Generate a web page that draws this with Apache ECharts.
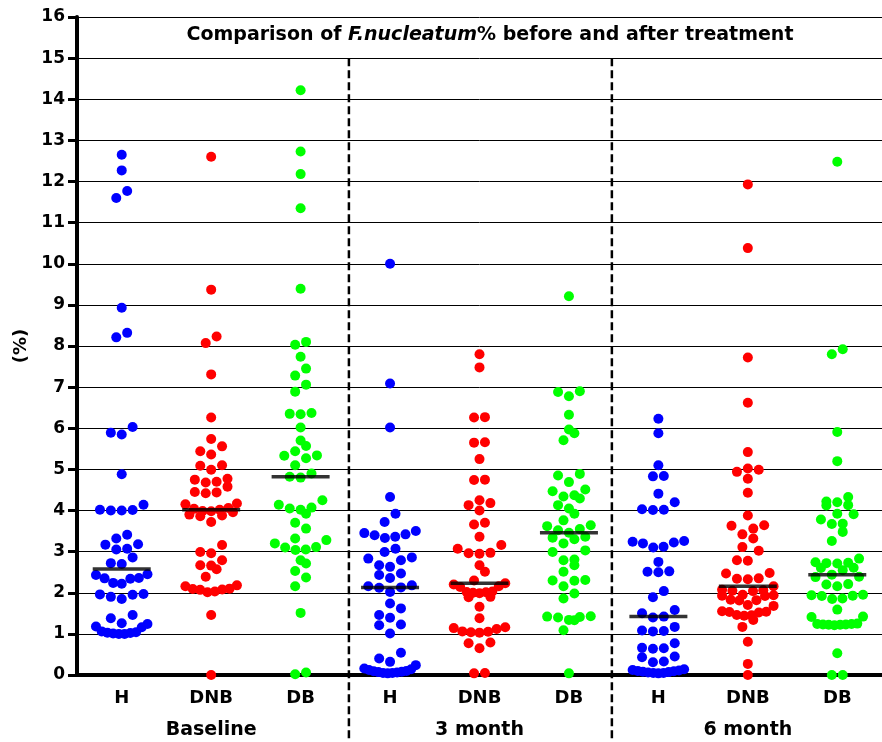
<!DOCTYPE html>
<html>
<head>
<meta charset="utf-8">
<script src="https://cdn.jsdelivr.net/npm/echarts@6/dist/echarts.min.js"></script>
<style>
html, body { margin: 0; padding: 0; background: #fff; }
#chart { width: 882px; height: 742px; }
</style>
</head>
<body>
<div id="chart"></div>
<script>
// categories
const catLabels = ["H", "DNB", "DB", "H", "DNB", "DB", "H", "DNB", "DB"];
const groupLabels = ["Baseline", "3 month", "6 month"];

// F.nucleatum % per subject
const baseH = [12.65, 12.27, 11.77, 11.6, 8.93, 8.32, 8.21, 6.03, 5.89, 5.85, 4.88, 4.14, 4.02, 4.01, 4.0, 4.0,
  3.41, 3.32, 3.18, 3.17, 3.07, 3.05, 2.86, 2.72, 2.70, 2.45, 2.43, 2.36, 2.35, 2.34, 2.24, 2.22, 1.97, 1.96,
  1.95, 1.90, 1.85, 1.46, 1.38, 1.26, 1.24, 1.18, 1.16, 1.06, 1.03, 1.01, 1.0, 1.0, 1.02, 1.04];
const baseDNB = [12.6, 9.37, 8.23, 8.07, 7.31, 6.26, 5.74, 5.56, 5.44, 5.36, 5.10, 5.09, 4.99, 4.77, 4.75, 4.70,
  4.68, 4.58, 4.45, 4.44, 4.42, 4.17, 4.15, 4.06, 4.04, 4.02, 3.99, 3.98, 3.96, 3.90, 3.88, 3.86, 3.72, 3.16,
  2.99, 2.96, 2.79, 2.67, 2.66, 2.57, 2.39, 2.18, 2.16, 2.10, 2.09, 2.08, 2.07, 2.03, 2.01, 1.46, 0.0];
const baseDB = [14.22, 12.73, 12.18, 11.35, 9.39, 8.10, 8.03, 7.74, 7.45, 7.28, 7.06, 6.89, 6.37, 6.35, 6.34,
  6.02, 5.70, 5.57, 5.44, 5.34, 5.33, 5.27, 5.10, 4.90, 4.82, 4.80, 4.25, 4.14, 4.07, 4.05, 4.02, 3.92, 3.70,
  3.56, 3.32, 3.28, 3.20, 3.11, 3.10, 3.05, 3.04, 2.79, 2.71, 2.53, 2.37, 2.16, 1.51, 0.02, 0.06];
const m3H = [10.0, 7.09, 6.02, 4.33, 3.92, 3.72, 3.50, 3.45, 3.42, 3.40, 3.36, 3.33, 3.07, 2.99, 2.86, 2.83,
  2.79, 2.67, 2.63, 2.47, 2.43, 2.36, 2.18, 2.16, 2.13, 2.12, 2.02, 1.74, 1.62, 1.46, 1.39, 1.23, 1.21, 1.01,
  0.54, 0.40, 0.32, 0.24, 0.16, 0.14, 0.12, 0.10, 0.09, 0.08, 0.07, 0.06, 0.05, 0.05, 0.04];
const m3DNB = [7.80, 7.48, 6.27, 6.26, 5.66, 5.65, 5.25, 4.75, 4.74, 4.25, 4.18, 4.13, 4.00, 3.70, 3.66, 3.36,
  3.16, 3.07, 2.97, 2.96, 2.95, 2.67, 2.51, 2.30, 2.23, 2.20, 2.16, 2.14, 2.03, 2.02, 2.01, 2.0, 1.99, 1.90,
  1.89, 1.66, 1.38, 1.16, 1.14, 1.12, 1.06, 1.05, 1.04, 1.03, 0.79, 0.77, 0.65, 0.05, 0.04];
const m3DB = [9.21, 6.90, 6.88, 6.78, 6.33, 5.97, 5.88, 5.71, 4.89, 4.85, 4.69, 4.51, 4.47, 4.37, 4.34, 4.29,
  4.13, 4.05, 3.92, 3.76, 3.64, 3.62, 3.55, 3.52, 3.46, 3.36, 3.34, 3.30, 3.20, 3.03, 2.99, 2.81, 2.79, 2.67,
  2.51, 2.31, 2.30, 2.29, 2.16, 1.98, 1.86, 1.43, 1.42, 1.41, 1.40, 1.34, 1.33, 1.09, 0.04];
const m6H = [6.23, 5.88, 5.10, 4.84, 4.83, 4.41, 4.20, 4.03, 4.02, 4.01, 3.26, 3.24, 3.22, 3.20, 3.12, 3.10,
  2.75, 2.52, 2.51, 2.50, 2.04, 1.89, 1.58, 1.50, 1.42, 1.40, 1.17, 1.08, 1.07, 1.06, 0.77, 0.66, 0.65, 0.64,
  0.45, 0.43, 0.33, 0.31, 0.14, 0.12, 0.11, 0.10, 0.09, 0.08, 0.07, 0.06, 0.05, 0.05, 0.04];
const m6DNB = [11.93, 10.38, 7.72, 6.62, 5.42, 5.02, 4.99, 4.94, 4.77, 4.43, 3.88, 3.64, 3.63, 3.56, 3.42, 3.32,
  3.11, 3.02, 2.79, 2.78, 2.48, 2.47, 2.35, 2.34, 2.33, 2.16, 2.07, 2.06, 2.05, 2.04, 1.95, 1.94, 1.93, 1.92,
  1.83, 1.82, 1.81, 1.70, 1.68, 1.55, 1.54, 1.53, 1.52, 1.46, 1.45, 1.44, 1.34, 1.17, 0.81, 0.27, 0.0];
const m6DB = [12.48, 7.92, 7.80, 5.91, 5.20, 4.33, 4.22, 4.20, 4.13, 4.12, 3.92, 3.91, 3.78, 3.68, 3.67, 3.48,
  3.26, 2.83, 2.74, 2.73, 2.72, 2.71, 2.61, 2.60, 2.55, 2.44, 2.39, 2.38, 2.21, 2.20, 2.16, 1.95, 1.94, 1.93,
  1.92, 1.86, 1.85, 1.59, 1.42, 1.41, 1.25, 1.24, 1.24, 1.23, 1.23, 1.22, 1.22, 1.21, 0.53, 0.0, 0.0];

const groups = [baseH, baseDNB, baseDB, m3H, m3DNB, m3DB, m6H, m6DNB, m6DB];
const colors = ["#0000ff", "#ff0000", "#00ff00"];

const gridLeft = 77, gridRight = -8, gridTop = 17, gridBottom = 67;
const chart = echarts.init(document.getElementById("chart"));
const pxX = (chart.getWidth() - gridLeft - gridRight) / 9;
const pxY = (chart.getHeight() - gridTop - gridBottom) / 16;
const dotSize = 10;

function median(arr) {
  const s = arr.slice().sort((a, b) => a - b);
  const n = s.length;
  return n % 2 ? s[(n - 1) / 2] : (s[n / 2 - 1] + s[n / 2]) / 2;
}

// prism-like scatter: points close in value go in one row, lowest in the middle
function spread(values) {
  const rowH = dotSize, gap = 11, maxW = 52;
  const order = values.map((v, i) => i).sort((a, b) => values[a] - values[b]);
  const rows = [];
  let row = null;
  order.forEach(idx => {
    const y = values[idx] * pxY;
    if (!row || y - row.start >= rowH) {
      row = { start: y, idx: [] };
      rows.push(row);
    }
    row.idx.push(idx);
  });
  const offs = new Array(values.length).fill(0);
  rows.forEach(r => {
    const n = r.idx.length;
    const s = n > 1 ? Math.min(gap, maxW / (n - 1)) : 0;
    const slots = [];
    for (let k = 0; k < n; k++) slots.push((k - (n - 1) / 2) * s);
    slots.sort((a, b) => Math.abs(a) - Math.abs(b) || a - b);
    r.idx.forEach((idx, k) => { offs[idx] = slots[k]; });
  });
  return offs;
}

const pointSeries = colors.map((c, k) => {
  const data = [];
  groups.forEach((vals, i) => {
    if (i % 3 !== k) return;
    const offs = spread(vals);
    vals.forEach((v, j) => data.push([i + offs[j] / pxX, v]));
  });
  return {
    type: "scatter",
    xAxisIndex: 0,
    symbol: "circle",
    symbolSize: dotSize,
    itemStyle: { color: c, opacity: 1 },
    data: data,
    z: 2
  };
});

const font = "'DejaVu Sans', sans-serif";

chart.setOption({
  animation: false,
  backgroundColor: "#fff",
  title: {
    text: "{b|Comparison of }{i|F.nucleatum}{b|% before and after treatment}",
    left: 485,
    top: 21,
    textAlign: "center",
    textStyle: {
      rich: {
        b: { fontFamily: font, fontWeight: "bold", fontSize: 19, color: "#000" },
        i: { fontFamily: font, fontWeight: "bold", fontStyle: "italic", fontSize: 19, color: "#000" }
      }
    }
  },
  grid: { left: gridLeft, right: gridRight, top: gridTop, bottom: gridBottom },
  xAxis: [
    { type: "value", min: -0.5, max: 8.5, show: false },
    {
      type: "category",
      position: "bottom",
      data: catLabels,
      axisLine: { lineStyle: { color: "#000", width: 4 } },
      axisTick: { alignWithLabel: true, length: 8, lineStyle: { color: "#000", width: 3 } },
      axisLabel: { margin: 14, color: "#000", fontFamily: font, fontWeight: "bold", fontSize: 18 },
      splitLine: { show: false }
    },
    {
      type: "category",
      position: "bottom",
      data: groupLabels,
      axisLine: { show: false },
      axisTick: { show: false },
      axisLabel: { margin: 46, color: "#000", fontFamily: font, fontWeight: "bold", fontSize: 19 },
      splitLine: { show: false }
    }
  ],
  yAxis: {
    type: "value",
    min: 0,
    max: 16,
    interval: 1,
    name: "(%)",
    nameLocation: "middle",
    nameGap: 44,
    nameTextStyle: { color: "#000", fontFamily: font, fontWeight: "bold", fontSize: 18 },
    axisLine: { show: true, onZero: false, lineStyle: { color: "#000", width: 4 } },
    axisTick: { show: true, length: 9, lineStyle: { color: "#000", width: 3 } },
    axisLabel: { margin: 12, color: "#000", fontFamily: font, fontWeight: "bold", fontSize: 17 },
    splitLine: { show: true, lineStyle: { color: "#000", width: 1 } }
  },
  series: [
    {
      type: "custom",
      xAxisIndex: 0,
      data: [[2.54, 15], [5.48, 15]],
      renderItem: function (params, api) {
        const top = api.coord([api.value(0), api.value(1)]);
        const bot = api.coord([api.value(0), 0]);
        return {
          type: "line",
          shape: { x1: top[0], y1: top[1], x2: top[0], y2: bot[1] + 66 },
          style: { stroke: "#000", lineWidth: 2.5, lineDash: [8, 4] }
        };
      },
      z: 1
    },
    ...pointSeries,
    {
      type: "scatter",
      xAxisIndex: 0,
      symbol: "rect",
      symbolSize: [58, 3.5],
      itemStyle: { color: "#000" },
      data: groups.map((vals, i) => [i, median(vals)]),
      z: 3
    }
  ]
});
</script>
</body>
</html>
